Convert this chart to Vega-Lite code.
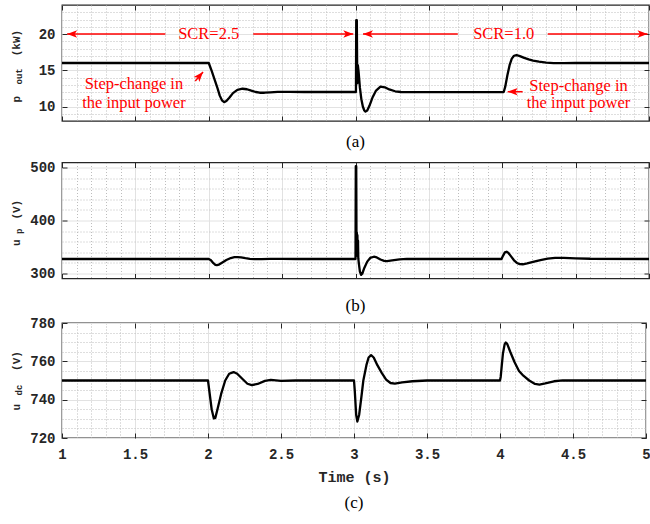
{
  "$schema": "https://vega.github.io/schema/vega-lite/v6.json",
  "padding": {"left": 9, "top": 3, "right": 0, "bottom": 0},
  "spacing": 0,
  "datasets": {
    "a": [
      {"t":1,"v":16},{"t":2,"v":16},{"t":2.02,"v":14.9},{"t":2.04,"v":13.7},{"t":2.06,"v":12.5},{"t":2.075,"v":11.5},{"t":2.09,"v":10.85},{"t":2.105,"v":10.6},{"t":2.12,"v":10.75},{"t":2.14,"v":11.2},{"t":2.165,"v":11.85},{"t":2.195,"v":12.3},{"t":2.23,"v":12.45},{"t":2.26,"v":12.38},{"t":2.29,"v":12.18},{"t":2.32,"v":12.0},{"t":2.347,"v":11.9},{"t":2.38,"v":11.9},{"t":2.42,"v":11.96},{"t":2.47,"v":12.03},{"t":2.55,"v":12.03},{"t":2.65,"v":12.0},
      {"t":3.003,"v":12.0},{"t":3.005,"v":21.9},{"t":3.009,"v":21.9},{"t":3.012,"v":13.2},{"t":3.016,"v":15.7},{"t":3.021,"v":14.8},{"t":3.03,"v":12.6},{"t":3.04,"v":11.0},{"t":3.05,"v":10.0},{"t":3.06,"v":9.45},{"t":3.068,"v":9.3},{"t":3.08,"v":9.45},{"t":3.095,"v":10.1},{"t":3.115,"v":11.2},{"t":3.14,"v":12.2},{"t":3.17,"v":12.75},{"t":3.2,"v":12.65},{"t":3.23,"v":12.35},{"t":3.27,"v":12.1},{"t":3.31,"v":12.0},{"t":3.4,"v":11.98},
      {"t":4.01,"v":12.0},{"t":4.02,"v":12.7},{"t":4.035,"v":14.3},{"t":4.05,"v":15.7},{"t":4.065,"v":16.6},{"t":4.08,"v":17.0},{"t":4.097,"v":17.1},{"t":4.12,"v":16.95},{"t":4.15,"v":16.7},{"t":4.18,"v":16.5},{"t":4.21,"v":16.33},{"t":4.25,"v":16.18},{"t":4.3,"v":16.05},{"t":4.35,"v":15.98},{"t":4.42,"v":15.97},{"t":4.5,"v":16.02},{"t":4.6,"v":16.0},{"t":5,"v":16}
    ],
    "b": [
      {"t":1,"v":327},{"t":2.0,"v":327},{"t":2.015,"v":324.5},{"t":2.03,"v":319.5},{"t":2.045,"v":316},{"t":2.055,"v":315.5},{"t":2.07,"v":316.5},{"t":2.09,"v":320},{"t":2.12,"v":325},{"t":2.15,"v":328.8},{"t":2.175,"v":330.4},{"t":2.195,"v":330.7},{"t":2.22,"v":330},{"t":2.25,"v":328.6},{"t":2.28,"v":327.4},{"t":2.31,"v":326.8},{"t":2.36,"v":326.8},{"t":2.42,"v":327.3},{"t":2.5,"v":327.4},{"t":2.6,"v":327},
      {"t":3.0,"v":327},{"t":3.002,"v":503},{"t":3.005,"v":503},{"t":3.007,"v":345},{"t":3.009,"v":377},{"t":3.011,"v":336},{"t":3.013,"v":372},{"t":3.015,"v":332},{"t":3.017,"v":362},{"t":3.019,"v":328},{"t":3.024,"v":316},{"t":3.03,"v":303},{"t":3.038,"v":297},{"t":3.046,"v":299},{"t":3.06,"v":310},{"t":3.08,"v":322},{"t":3.1,"v":329},{"t":3.125,"v":331.3},{"t":3.145,"v":330},{"t":3.17,"v":326},{"t":3.195,"v":323.3},{"t":3.215,"v":323},{"t":3.25,"v":324.3},{"t":3.3,"v":326.3},{"t":3.35,"v":327.3},{"t":3.5,"v":327},
      {"t":3.995,"v":327},{"t":4.005,"v":333},{"t":4.018,"v":339.5},{"t":4.03,"v":340.8},{"t":4.042,"v":338.5},{"t":4.06,"v":332},{"t":4.08,"v":324.5},{"t":4.1,"v":319.5},{"t":4.12,"v":317.2},{"t":4.14,"v":317},{"t":4.17,"v":318.5},{"t":4.21,"v":321.5},{"t":4.26,"v":325},{"t":4.31,"v":327.8},{"t":4.36,"v":329},{"t":4.42,"v":329.3},{"t":4.5,"v":328.3},{"t":4.6,"v":327.5},{"t":5,"v":327}
    ],
    "c": [
      {"t":1,"v":750},{"t":2.0,"v":750},{"t":2.01,"v":744},{"t":2.025,"v":735},{"t":2.04,"v":730.2},{"t":2.05,"v":730.5},{"t":2.065,"v":735},{"t":2.09,"v":743},{"t":2.118,"v":750},{"t":2.145,"v":753.5},{"t":2.175,"v":754.4},{"t":2.2,"v":753.5},{"t":2.24,"v":750.5},{"t":2.27,"v":748.3},{"t":2.3,"v":747.6},{"t":2.34,"v":748.2},{"t":2.39,"v":749.8},{"t":2.43,"v":750.3},{"t":2.5,"v":749.8},{"t":2.6,"v":750},
      {"t":3.0,"v":750},{"t":3.005,"v":745},{"t":3.015,"v":732},{"t":3.023,"v":728.6},{"t":3.035,"v":732},{"t":3.05,"v":741},{"t":3.064,"v":750},{"t":3.085,"v":758},{"t":3.1,"v":762},{"t":3.117,"v":763.2},{"t":3.135,"v":762},{"t":3.16,"v":758},{"t":3.19,"v":754},{"t":3.22,"v":750.5},{"t":3.25,"v":748.7},{"t":3.28,"v":748.4},{"t":3.33,"v":749},{"t":3.4,"v":749.6},{"t":3.5,"v":750},
      {"t":4.0,"v":750},{"t":4.005,"v":752},{"t":4.02,"v":764},{"t":4.032,"v":769},{"t":4.04,"v":769.8},{"t":4.05,"v":769},{"t":4.07,"v":765},{"t":4.1,"v":759.5},{"t":4.13,"v":755},{"t":4.16,"v":752.5},{"t":4.2,"v":750},{"t":4.24,"v":748.2},{"t":4.27,"v":747.9},{"t":4.31,"v":748.5},{"t":4.37,"v":749.6},{"t":4.43,"v":750.1},{"t":4.55,"v":750},{"t":5,"v":750}
    ],
    "ann_text": [
      {"x":2.0,"y":20,"label":"SCR=2.5"},
      {"x":4.01,"y":20,"label":"SCR=1.0"},
      {"x":1.49,"y":13.1,"label":"Step-change in"},
      {"x":1.49,"y":10.5,"label":"the input power"},
      {"x":4.52,"y":12.85,"label":"Step-change in"},
      {"x":4.52,"y":10.45,"label":"the input power"}
    ],
    "ann_arrow": [
      {"x":1.704,"y":20,"x2":1.035,"y2":20,"dir":"left"},
      {"x":2.303,"y":20,"x2":2.985,"y2":20,"dir":"right"},
      {"x":3.697,"y":20,"x2":3.051,"y2":20,"dir":"left"},
      {"x":4.31,"y":20,"x2":4.99,"y2":20,"dir":"right"},
      {"x":1.908,"y":13.52,"x2":1.961,"y2":14.76,"dir":"upright"},
      {"x":4.139,"y":12.04,"x2":4.037,"y2":12.04,"dir":"left"}
    ]
  },
  "vconcat": [
    {
      "spacing": 8.5,
      "vconcat": [
        {
          "width": 587, "height": 116,
          "title": {"text": "(a)", "offset": 12},
          "resolve": {"axis": {"x": "independent", "y": "independent"}},
          "layer": [
            {
              "data": {"name": "a"},
              "mark": {"type": "line", "color": "black", "strokeWidth": 2.3, "strokeJoin": "round"},
              "encoding": {
                "x": {"field": "t", "type": "quantitative", "scale": {"domain": [1, 5], "nice": false, "zero": false},
                      "axis": {"orient": "bottom", "values": [1,1.5,2,2.5,3,3.5,4,4.5,5], "labels": false, "grid": true, "title": null}},
                "y": {"field": "v", "type": "quantitative", "scale": {"domain": [8, 24], "nice": false, "zero": false},
                      "axis": {"orient": "left", "values": [10,15,20], "grid": true, "labelPadding": 12,
                               "title": "p\u00a0\u00a0\u00a0\u00a0\u00a0\u00a0(kW)", "titleX": -43, "titleY": 97, "titleAngle": -90, "titleAlign": "left", "titleBaseline": "alphabetic", "titleFontSize": 11}}
              }
            },
            {
              "data": {"name": "a"},
              "mark": {"type": "line", "strokeOpacity": 0},
              "encoding": {
                "x": {"field": "t", "type": "quantitative", "scale": {"domain": [1, 5], "nice": false, "zero": false},
                      "axis": {"orient": "top", "values": [1,1.5,2,2.5,3,3.5,4,4.5,5], "labels": false, "grid": false, "title": null}},
                "y": {"field": "v", "type": "quantitative", "scale": {"domain": [8, 24], "nice": false, "zero": false},
                      "axis": {"orient": "right", "values": [10,15,20], "labels": false, "grid": false, "title": null}}
              }
            },
            {
              "data": {"name": "a"},
              "mark": {"type": "line", "strokeOpacity": 0},
              "encoding": {
                "x": {"field": "t", "type": "quantitative", "scale": {"domain": [1, 5], "nice": false, "zero": false},
                      "axis": {"orient": "bottom", "values": [1.1,1.2,1.3,1.4,1.6,1.7,1.8,1.9,2.1,2.2,2.3,2.4,2.6,2.7,2.8,2.9,3.1,3.2,3.3,3.4,3.6,3.7,3.8,3.9,4.1,4.2,4.3,4.4,4.6,4.7,4.8,4.9], "labels": false, "ticks": false, "grid": true, "gridDash": [1, 2], "gridColor": "#bdbdbd", "title": null}},
                "y": {"field": "v", "type": "quantitative", "scale": {"domain": [8, 24], "nice": false, "zero": false},
                      "axis": {"orient": "left", "values": [9,11,12,13,14,16,17,18,19,21,22,23], "labels": false, "ticks": false, "grid": true, "gridDash": [1, 2], "gridColor": "#bdbdbd",
                               "title": "out", "titleX": -40.5, "titleY": 79, "titleAngle": -90, "titleAlign": "left", "titleBaseline": "alphabetic", "titleFontSize": 9}}
              }
            },
            {
              "data": {"name": "ann_arrow"},
              "mark": {"type": "rule", "color": "red", "strokeWidth": 1.5},
              "encoding": {
                "x": {"field": "x", "type": "quantitative", "scale": {"domain": [1, 5], "nice": false, "zero": false}, "axis": null},
                "y": {"field": "y", "type": "quantitative", "scale": {"domain": [8, 24], "nice": false, "zero": false}, "axis": null},
                "x2": {"field": "x2"},
                "y2": {"field": "y2"}
              }
            },
            {
              "data": {"name": "ann_arrow"},
              "transform": [{"filter": "datum.dir === 'left'"}],
              "mark": {"type": "point", "shape": "M0,0L2,-0.75L1.5,0L2,0.75Z", "filled": true, "color": "red", "opacity": 1, "size": 100, "strokeWidth": 0},
              "encoding": {
                "x": {"field": "x2", "type": "quantitative", "scale": {"domain": [1, 5], "nice": false, "zero": false}, "axis": null},
                "y": {"field": "y2", "type": "quantitative", "scale": {"domain": [8, 24], "nice": false, "zero": false}, "axis": null}
              }
            },
            {
              "data": {"name": "ann_arrow"},
              "transform": [{"filter": "datum.dir === 'right'"}],
              "mark": {"type": "point", "shape": "M0,0L-2,-0.75L-1.5,0L-2,0.75Z", "filled": true, "color": "red", "opacity": 1, "size": 100, "strokeWidth": 0},
              "encoding": {
                "x": {"field": "x2", "type": "quantitative", "scale": {"domain": [1, 5], "nice": false, "zero": false}, "axis": null},
                "y": {"field": "y2", "type": "quantitative", "scale": {"domain": [8, 24], "nice": false, "zero": false}, "axis": null}
              }
            },
            {
              "data": {"name": "ann_arrow"},
              "transform": [{"filter": "datum.dir === 'upright'"}],
              "mark": {"type": "point", "shape": "M0,0L-2,-0.75L-1.5,0L-2,0.75Z", "angle": 311, "filled": true, "color": "red", "opacity": 1, "size": 100, "strokeWidth": 0},
              "encoding": {
                "x": {"field": "x2", "type": "quantitative", "scale": {"domain": [1, 5], "nice": false, "zero": false}, "axis": null},
                "y": {"field": "y2", "type": "quantitative", "scale": {"domain": [8, 24], "nice": false, "zero": false}, "axis": null}
              }
            },
            {
              "data": {"name": "ann_text"},
              "mark": {"type": "text", "color": "red", "font": "Liberation Serif", "fontSize": 16.5, "align": "center", "baseline": "middle"},
              "encoding": {
                "x": {"field": "x", "type": "quantitative", "scale": {"domain": [1, 5], "nice": false, "zero": false}, "axis": null},
                "y": {"field": "y", "type": "quantitative", "scale": {"domain": [8, 24], "nice": false, "zero": false}, "axis": null},
                "text": {"field": "label"}
              }
            }
          ]
        },
        {
          "width": 587, "height": 116,
          "title": {"text": "(b)", "offset": 18},
          "data": {"name": "b"},
          "resolve": {"axis": {"x": "independent", "y": "independent"}},
          "layer": [
            {
              "mark": {"type": "line", "color": "black", "strokeWidth": 2.3, "strokeJoin": "round"},
              "encoding": {
                "x": {"field": "t", "type": "quantitative", "scale": {"domain": [1, 5], "nice": false, "zero": false},
                      "axis": {"orient": "bottom", "values": [1,1.5,2,2.5,3,3.5,4,4.5,5], "labels": false, "grid": true, "title": null}},
                "y": {"field": "v", "type": "quantitative", "scale": {"domain": [290, 510], "nice": false, "zero": false},
                      "axis": {"orient": "left", "values": [300,400,500], "grid": true, "labelPadding": 12,
                               "title": "u\u00a0\u00a0\u00a0(V)", "titleX": -43, "titleY": 83, "titleAngle": -90, "titleAlign": "left", "titleBaseline": "alphabetic", "titleFontSize": 11}}
              }
            },
            {
              "mark": {"type": "line", "strokeOpacity": 0},
              "encoding": {
                "x": {"field": "t", "type": "quantitative", "scale": {"domain": [1, 5], "nice": false, "zero": false},
                      "axis": {"orient": "top", "values": [1,1.5,2,2.5,3,3.5,4,4.5,5], "labels": false, "grid": false, "title": null}},
                "y": {"field": "v", "type": "quantitative", "scale": {"domain": [290, 510], "nice": false, "zero": false},
                      "axis": {"orient": "right", "values": [300,400,500], "labels": false, "grid": false, "title": null}}
              }
            },
            {
              "mark": {"type": "line", "strokeOpacity": 0},
              "encoding": {
                "x": {"field": "t", "type": "quantitative", "scale": {"domain": [1, 5], "nice": false, "zero": false},
                      "axis": {"orient": "bottom", "values": [1.1,1.2,1.3,1.4,1.6,1.7,1.8,1.9,2.1,2.2,2.3,2.4,2.6,2.7,2.8,2.9,3.1,3.2,3.3,3.4,3.6,3.7,3.8,3.9,4.1,4.2,4.3,4.4,4.6,4.7,4.8,4.9], "labels": false, "ticks": false, "grid": true, "gridDash": [1, 2], "gridColor": "#bdbdbd", "title": null}},
                "y": {"field": "v", "type": "quantitative", "scale": {"domain": [290, 510], "nice": false, "zero": false},
                      "axis": {"orient": "left", "values": [320,340,360,380,420,440,460,480], "labels": false, "ticks": false, "grid": true, "gridDash": [1, 2], "gridColor": "#bdbdbd",
                               "title": "p", "titleX": -41, "titleY": 71, "titleAngle": -90, "titleAlign": "left", "titleBaseline": "alphabetic", "titleFontSize": 9}}
              }
            }
          ]
        }
      ]
    },
    {
      "width": 584, "height": 115,
      "title": {"text": "(c)", "offset": 11},
      "data": {"name": "c"},
      "resolve": {"axis": {"x": "independent", "y": "independent"}},
      "layer": [
        {
          "mark": {"type": "line", "color": "black", "strokeWidth": 2.3, "strokeJoin": "round"},
          "encoding": {
            "x": {"field": "t", "type": "quantitative", "scale": {"domain": [1, 5], "nice": false, "zero": false},
                  "axis": {"orient": "bottom", "values": [1,1.5,2,2.5,3,3.5,4,4.5,5], "format": "~g", "labelPadding": 14, "grid": true, "title": "Time (s)", "titleFontSize": 15, "titlePadding": 8}},
            "y": {"field": "v", "type": "quantitative", "scale": {"domain": [720, 780], "nice": false, "zero": false},
                  "axis": {"orient": "left", "values": [720,740,760,780], "grid": true, "labelPadding": 12,
                           "title": "u\u00a0\u00a0\u00a0\u00a0\u00a0(V)", "titleX": -43, "titleY": 87, "titleAngle": -90, "titleAlign": "left", "titleBaseline": "alphabetic", "titleFontSize": 11}}
          }
        },
        {
          "mark": {"type": "line", "strokeOpacity": 0},
          "encoding": {
            "x": {"field": "t", "type": "quantitative", "scale": {"domain": [1, 5], "nice": false, "zero": false},
                  "axis": {"orient": "top", "values": [1,1.5,2,2.5,3,3.5,4,4.5,5], "labels": false, "grid": false, "title": null}},
            "y": {"field": "v", "type": "quantitative", "scale": {"domain": [720, 780], "nice": false, "zero": false},
                  "axis": {"orient": "right", "values": [720,740,760,780], "labels": false, "grid": false, "title": null}}
          }
        },
        {
          "mark": {"type": "line", "strokeOpacity": 0},
          "encoding": {
            "x": {"field": "t", "type": "quantitative", "scale": {"domain": [1, 5], "nice": false, "zero": false},
                  "axis": {"orient": "bottom", "values": [1.1,1.2,1.3,1.4,1.6,1.7,1.8,1.9,2.1,2.2,2.3,2.4,2.6,2.7,2.8,2.9,3.1,3.2,3.3,3.4,3.6,3.7,3.8,3.9,4.1,4.2,4.3,4.4,4.6,4.7,4.8,4.9], "labels": false, "ticks": false, "grid": true, "gridDash": [1, 2], "gridColor": "#bdbdbd", "title": null}},
            "y": {"field": "v", "type": "quantitative", "scale": {"domain": [720, 780], "nice": false, "zero": false},
                  "axis": {"orient": "left", "values": [725,730,735,745,750,755,765,770,775], "labels": false, "ticks": false, "grid": true, "gridDash": [1, 2], "gridColor": "#bdbdbd",
                           "title": "dc", "titleX": -40.5, "titleY": 72, "titleAngle": -90, "titleAlign": "left", "titleBaseline": "alphabetic", "titleFontSize": 9}}
          }
        }
      ]
    }
  ],
  "config": {
    "view": {"stroke": "#262626", "strokeWidth": 1.3},
    "axis": {
      "domain": false,
      "labelFont": "Liberation Mono", "labelFontWeight": "bold", "labelFontSize": 14, "labelColor": "#262626",
      "labelFlush": false, "labelOverlap": false,
      "titleFont": "Liberation Mono", "titleFontWeight": "bold", "titleColor": "#262626",
      "tickColor": "#262626", "tickSize": -5, "tickWidth": 1,
      "gridColor": "#e2e2e2", "gridWidth": 1
    },
    "title": {"font": "Liberation Serif", "fontSize": 17, "fontWeight": "normal", "color": "black", "orient": "bottom", "anchor": "middle", "baseline": "top"}
  }
}
